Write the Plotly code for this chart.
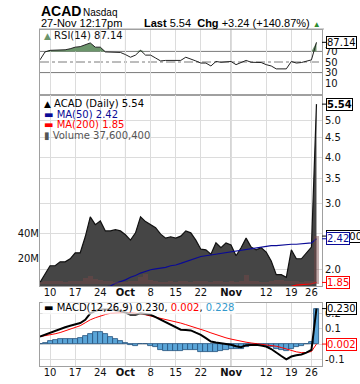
import math
import plotly.graph_objects as go

# ---------------- data (trading-day index, 0 = 10 Sep 2012) ----------------
day_idx = list(range(-2, 54))

price = [1.85, 1.94, 2.05, 2.05, 2.10, 2.10, 2.14, 2.22, 2.22, 2.45,
         2.77, 2.64, 2.70, 2.54, 2.54, 2.56, 2.54, 2.48, 2.40, 2.51,
         2.77, 2.69, 2.64, 2.59, 2.49, 2.43, 2.45, 2.43, 2.46, 2.54,
         2.51, 2.40, 2.27, 2.26, 2.20, 2.36, 2.29, 2.36, 2.33, 2.18,
         2.29, 2.43, 2.30, 2.26, 2.29, 2.23, 2.11, 1.94, 1.94, 1.91,
         2.26, 2.14, 2.14, 2.22, 2.30, 5.54]

volume_m = [2.0, 2.5, 3.0, 2.8, 3.0, 2.2, 2.5, 3.0, 2.5, 5.0,
            6.5, 4.5, 3.5, 3.0, 2.5, 2.0, 2.2, 2.0, 2.8, 3.0,
            5.5, 8.0, 3.5, 2.5, 2.0, 2.2, 2.5, 2.0, 2.8, 3.0,
            2.2, 2.5, 3.0, 2.5, 2.0, 3.0, 2.5, 2.0, 2.5, 2.0,
            3.0, 7.0, 3.0, 2.5, 2.0, 2.2, 2.5, 3.5, 3.5, 3.0,
            3.0, 2.5, 2.0, 2.5, 3.0, 37.6]

ma50 = [1.62, 1.63, 1.64, 1.65, 1.66, 1.67, 1.68, 1.70, 1.71, 1.73,
        1.75, 1.77, 1.78, 1.80, 1.81, 1.84, 1.86, 1.88, 1.91, 1.93,
        1.96, 1.98, 2.00, 2.01, 2.02, 2.03, 2.05, 2.06, 2.08, 2.10,
        2.12, 2.14, 2.17, 2.18, 2.19, 2.20, 2.21, 2.22, 2.24, 2.25,
        2.26, 2.27, 2.28, 2.29, 2.30, 2.31, 2.32, 2.32, 2.33, 2.33,
        2.34, 2.34, 2.35, 2.35, 2.36, 2.42]

ma200 = [1.75, 1.75, 1.75, 1.75, 1.75, 1.75, 1.76, 1.76, 1.76, 1.76,
         1.76, 1.76, 1.77, 1.77, 1.77, 1.77, 1.77, 1.77, 1.77, 1.78,
         1.78, 1.78, 1.78, 1.78, 1.78, 1.78, 1.78, 1.79, 1.79, 1.79,
         1.79, 1.79, 1.79, 1.79, 1.79, 1.79, 1.80, 1.80, 1.80, 1.80,
         1.80, 1.80, 1.80, 1.80, 1.80, 1.80, 1.80, 1.80, 1.80, 1.805,
         1.805, 1.82, 1.825, 1.83, 1.835, 1.85]

rsi = [54, 69, 72, 72, 72.5, 73, 75, 78, 79, 82,
       86, 78, 78, 69, 69, 69, 68, 64, 59, 63,
       72, 63, 63, 57.5, 52, 53, 53, 53, 53, 59,
       56, 52, 48, 48, 42.5, 51, 49.5, 50, 51, 45,
       49, 53, 49.5, 49.5, 49, 45, 42.5, 37, 37, 37,
       51, 48, 49, 51, 54, 87.14]

macd = [0.050, 0.063, 0.076, 0.088, 0.100, 0.110, 0.120, 0.128, 0.137, 0.158,
        0.200, 0.215, 0.225, 0.225, 0.225, 0.220, 0.215, 0.205, 0.190, 0.190,
        0.200, 0.195, 0.190, 0.175, 0.158, 0.142, 0.126, 0.110, 0.094, 0.092,
        0.090, 0.075, 0.061, 0.040, 0.018, 0.012, 0.008, 0.002, -0.003, -0.012,
        -0.018, -0.005, -0.003, -0.003, -0.008, -0.014, -0.030, -0.050, -0.075, -0.096,
        -0.078, -0.070, -0.065, -0.053, -0.035, 0.230]

signal = [0.050, 0.055, 0.061, 0.068, 0.076, 0.087, 0.098, 0.109, 0.120, 0.139,
          0.158, 0.171, 0.184, 0.192, 0.200, 0.203, 0.205, 0.205, 0.204, 0.201,
          0.197, 0.190, 0.183, 0.176, 0.169, 0.161, 0.153, 0.145, 0.137, 0.127,
          0.118, 0.108, 0.098, 0.086, 0.074, 0.062, 0.050, 0.042, 0.034, 0.026,
          0.018, 0.014, 0.009, 0.005, 0.001, -0.002, -0.006, -0.012, -0.020, -0.030,
          -0.042, -0.048, -0.053, -0.052, -0.046, 0.002]

hist = [0.003, 0.010, 0.023, 0.028, 0.032, 0.032, 0.032, 0.036, 0.039, 0.054,
        0.065, 0.077, 0.077, 0.065, 0.050, 0.035, 0.024, 0.010, -0.001, -0.010,
        0.000, 0.000, -0.008, -0.020, -0.034, -0.042, -0.042, -0.042, -0.042, -0.034,
        -0.034, -0.038, -0.046, -0.046, -0.050, -0.046, -0.042, -0.034, -0.028, -0.028,
        -0.028, -0.015, -0.004, -0.001, -0.004, -0.015, -0.020, -0.028, -0.036, -0.040,
        -0.028, -0.020, -0.012, 0.000, 0.015, 0.228]

tick_idx = [0, 5, 10, 15, 20, 25, 30, 36, 43, 48, 52]
tick_text = ["10", "17", "24", "Oct", "8", "15", "22", "Nov", "12", "19", "26"]
month_labels = ["Oct", "Nov"]

# ---------------- layout helpers ----------------
W, H = 360, 384


def py(px):
    return 1 - px / H


X0, X1 = 40 / W, 322 / W
FONT = "DejaVu Sans"
tick_html = [f"<b>{t}</b>" if t in month_labels else t for t in tick_text]
month_idx = [tick_idx[tick_text.index(m)] for m in month_labels]

fig = go.Figure()

# ---- RSI panel ----
rsi_top = [max(v, 70) for v in rsi]
fig.add_trace(go.Scatter(x=day_idx, y=[70] * len(day_idx), mode="lines",
                         line=dict(width=0), xaxis="x", yaxis="y", hoverinfo="skip"))
fig.add_trace(go.Scatter(x=day_idx, y=rsi_top, mode="lines", fill="tonexty",
                         fillcolor="#6b956b", line=dict(width=0), xaxis="x", yaxis="y"))
fig.add_trace(go.Scatter(x=day_idx, y=rsi, mode="lines",
                         line=dict(color="#222222", width=1), xaxis="x", yaxis="y"))

# ---- price panel ----
fig.add_trace(go.Scatter(x=day_idx, y=price, mode="lines", fill="tozeroy",
                         fillcolor="#454545", line=dict(color="#111111", width=1.2),
                         xaxis="x2", yaxis="y2"))
fig.add_trace(go.Bar(x=day_idx, y=volume_m, width=1.0,
                     marker=dict(color="rgba(120,70,70,0.45)", line=dict(width=0)),
                     xaxis="x2", yaxis="y3"))
fig.add_trace(go.Scatter(x=day_idx, y=ma50, mode="lines",
                         line=dict(color="#0a0a96", width=1.2), xaxis="x2", yaxis="y2"))
fig.add_trace(go.Scatter(x=day_idx, y=ma200, mode="lines",
                         line=dict(color="#ff0000", width=1.2), xaxis="x2", yaxis="y2"))

# ---- MACD panel ----
fig.add_trace(go.Bar(x=day_idx, y=hist, width=1.0,
                     marker=dict(color="#5aa5d8", line=dict(color="#24527c", width=0.8)),
                     xaxis="x3", yaxis="y4"))
fig.add_trace(go.Scatter(x=day_idx, y=signal, mode="lines",
                         line=dict(color="#ff0000", width=1), xaxis="x3", yaxis="y4"))
fig.add_trace(go.Scatter(x=day_idx, y=macd, mode="lines",
                         line=dict(color="#000000", width=2), xaxis="x3", yaxis="y4"))

xcommon = dict(range=[-2, 54.1], tickmode="array", tickvals=tick_idx, ticktext=tick_html,
               showgrid=True, gridcolor="#dcdcdc", gridwidth=1, showline=True,
               linecolor="#a0a0a0", mirror=True, ticks="", zeroline=False,
               ticklabelstandoff=-3,
               domain=[X0, X1], tickfont=dict(family=FONT, size=10, color="#111"))
ycommon = dict(showline=True, linecolor="#a0a0a0", mirror=True, ticks="", zeroline=False,
               side="right", tickfont=dict(family=FONT, size=10, color="#111"))

fig.update_layout(
    width=W, height=H, margin=dict(l=0, r=0, t=0, b=0),
    paper_bgcolor="white", plot_bgcolor="white", showlegend=False,
    bargap=0, barmode="overlay",
    font=dict(family=FONT, size=10, color="#111"),
    xaxis=dict(xcommon, anchor="y", showticklabels=False),
    xaxis2=dict(xcommon, anchor="y2", matches="x"),
    xaxis3=dict(xcommon, anchor="y4", matches="x"),
    yaxis=dict(ycommon, domain=[py(95), py(30)], range=[-12.3, 110.4],
               tickvals=[10, 30, 50, 70], showgrid=False, anchor="x"),
    yaxis2=dict(ycommon, domain=[py(286), py(95)], type="log",
                range=[math.log10(1.81), math.log10(5.86)],
                tickvals=[2, 2.5, 3, 3.5, 4, 4.5, 5],
                ticktext=["2.0", "", "3.0", "3.5", "4.0", "4.5", "5.0"],
                showgrid=True, gridcolor="#dcdcdc", anchor="x2"),
    yaxis3=dict(overlaying="y2", side="left", anchor="x2", range=[-1.17, 147.2],
                tickvals=[20, 40], ticktext=["20M", "40M"], showgrid=False,
                showline=False, zeroline=False, ticks="",
                tickfont=dict(family=FONT, size=10, color="#111")),
    yaxis4=dict(ycommon, domain=[py(366), py(303)], range=[-0.139, 0.266],
                tickvals=[-0.1, 0, 0.1, 0.2], ticktext=["-0.1", "", "0.1", "0.2"],
                showgrid=True, gridcolor="#dcdcdc", anchor="x3"),
)

shapes = []
# RSI reference lines
for lvl, dash in [(70, "solid"), (30, "solid"), (50, "dashdot")]:
    shapes.append(dict(type="line", xref="x domain", yref="y", x0=0, x1=1, y0=lvl, y1=lvl,
                       line=dict(color="#7a7a7a", width=1, dash=dash), layer="below"))
# month separators
for xr, yr in [("x", "y domain"), ("x2", "y2 domain"), ("x3", "y4 domain")]:
    for m in month_idx:
        shapes.append(dict(type="line", xref=xr, yref=yr, x0=m, x1=m, y0=0, y1=1,
                           line=dict(color="#a8a8a8", width=1), layer="below"))
# header rule
shapes.append(dict(type="line", xref="paper", yref="paper", x0=39 / W, x1=324 / W,
                   y0=py(29), y1=py(29), line=dict(color="#a0a0a0", width=1)))
fig.update_layout(shapes=shapes)

ann = []
HF = "Liberation Sans"
ann.append(dict(xref="paper", yref="paper", x=39 / W, y=py(11), xanchor="left", yanchor="middle",
                text="<b>ACAD</b>", showarrow=False, font=dict(family=HF, size=14, color="#000")))
ann.append(dict(xref="paper", yref="paper", x=81 / W, y=py(12), xanchor="left", yanchor="middle",
                text="Nasdaq", showarrow=False, font=dict(family=HF, size=10, color="#000")))
ann.append(dict(xref="paper", yref="paper", x=39 / W, y=py(23), xanchor="left", yanchor="middle",
                text="27-Nov 12:17pm", showarrow=False, font=dict(family=HF, size=11, color="#000")))
ann.append(dict(xref="paper", yref="paper", x=323 / W, y=py(23), xanchor="right", yanchor="middle",
                text=("<b>Last</b> %.2f  <b>Chg</b> +3.24 (+140.87%%) "
                      "<span style='color:#2e8b2e;font-size:8px'>▲</span>") % price[-1],
                showarrow=False, font=dict(family=HF, size=11, color="#000")))


# panel legends
def legend(x, y, text, color="#111", size=10, bg=None):
    d = dict(xref="paper", yref="paper", x=x / W, y=py(y), xanchor="left", yanchor="middle",
             text=text, showarrow=False, font=dict(family=FONT, size=size, color=color))
    if bg:
        d["bgcolor"] = bg
    ann.append(d)


legend(42, 35, "<span style='color:#6b956b;font-size:9px'>▲</span> RSI(14) %.2f" % rsi[-1])
legend(42, 103, "<span style='font-size:9px'>▲</span> ACAD (Daily) %.2f" % price[-1], "#000")
legend(42, 114, "▬ MA(50) %.2f" % ma50[-1], "#0a0a96")
legend(42, 125, "▬ MA(200) %.2f" % ma200[-1], "#ff0000")
legend(42, 135, "▮ Volume {:,}".format(37600400), "#555555")
legend(42, 307, ("▬ MACD(12,26,9) %.3f, <span style='color:#ff0000'>%.3f</span>, "
                 "<span style='color:#3399cc'>%.3f</span>") % (macd[-1], signal[-1], hist[-1]),
       "#000", bg="rgba(255,255,255,0.7)")


# value boxes on the right
def vbox(yref, y, text, color, bold=False):
    ann.append(dict(xref="paper", yref=yref, x=X1, y=y, ax=4, ay=0, xanchor="left",
                    text=("<b>%s</b>" % text) if bold else text,
                    showarrow=True, arrowhead=0, arrowwidth=1, arrowcolor=color,
                    bordercolor=color, borderwidth=1, borderpad=0, bgcolor="white",
                    font=dict(family=FONT, size=10, color=color)))


vbox("y", rsi[-1], "%.2f" % rsi[-1], "#000")
vbox("y2", math.log10(price[-1]), "%.2f" % price[-1], "#000", bold=True)
vbox("y3", volume_m[-1], "{:,}".format(37600400), "#000")
vbox("y2", math.log10(ma50[-1]), "%.2f" % ma50[-1], "#0a0a96")
vbox("y2", math.log10(ma200[-1]), "%.2f" % ma200[-1], "#ff0000")
vbox("y4", macd[-1], "%.3f" % macd[-1], "#000")
vbox("y4", signal[-1], "%.3f" % signal[-1], "#ff0000")

fig.update_layout(annotations=ann)
fig.write_html("out.html", config={"displayModeBar": False},
               post_script="document.body.style.margin='0';")
